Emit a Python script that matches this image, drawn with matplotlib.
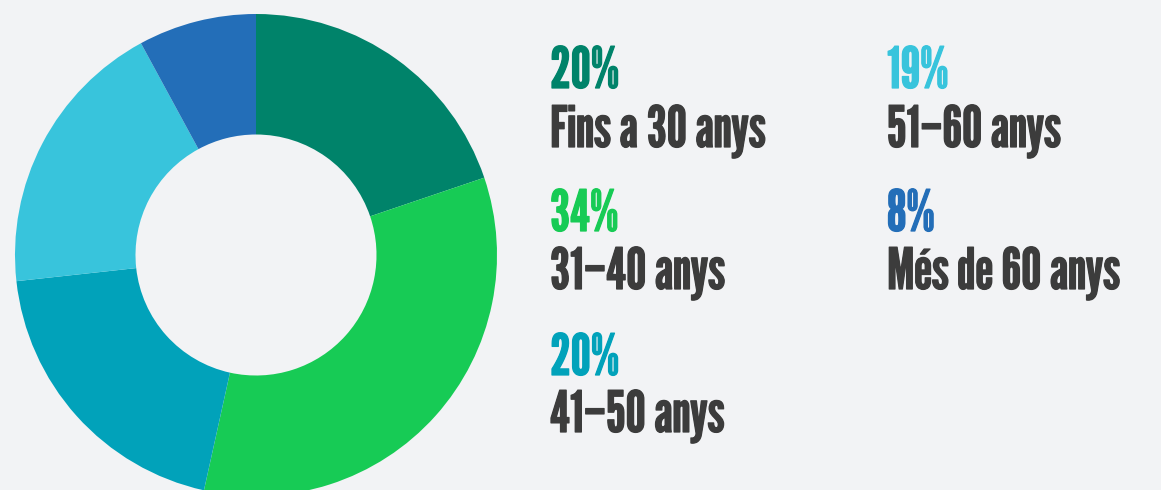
import matplotlib
matplotlib.use('Agg')
import matplotlib.pyplot as plt
import matplotlib.patheffects as pe

# Data
categories = ['Fins a 30 anys', '31-40 anys', '41-50 anys', '51-60 anys', 'Més de 60 anys']
values = [20, 34, 20, 19, 8]
pct_labels = ['20%', '34%', '20%', '19%', '8%']
colors = ['#00836A', '#17CB55', '#01A2BA', '#38C4DC', '#236EB8']

bg = '#F2F3F5'
text_dark = '#3C3C3C'
font = ['League Gothic', 'Oswald', 'DejaVu Sans']

W, H = 1161, 490
fig = plt.figure(figsize=(W / 100, H / 100), dpi=100, facecolor=bg)

# Donut
ax = fig.add_axes([15 / W, -6 / H, 482 / W, 482 / H])
ax.set_facecolor(bg)
ax.pie(values, colors=colors, startangle=90, counterclock=False,
       radius=1, wedgeprops=dict(width=0.5, linewidth=0))
ax.set_xlim(-1, 1)
ax.set_ylim(-1, 1)
ax.set_aspect('equal')
ax.axis('off')

# Legend text (two columns)
col_x = [550, 887]
pct_y = [88, 231, 375]
lab_y = [147, 289, 432]
slots = [(0, 0), (0, 1), (0, 2), (1, 0), (1, 1)]

def bold(c):
    # League Gothic is a touch lighter than the reference face
    return [pe.withStroke(linewidth=0.9, foreground=c)]

for i, (c, r) in enumerate(slots):
    x = col_x[c] / W
    fig.text(x, 1 - pct_y[r] / H, pct_labels[i], color=colors[i],
             fontsize=41, family=font, va='baseline', ha='left',
             path_effects=bold(colors[i]))
    fig.text(x, 1 - lab_y[r] / H, categories[i].replace('-', '–'), color=text_dark,
             fontsize=41, family=font, va='baseline', ha='left',
             path_effects=bold(text_dark))

fig.savefig('out.png', dpi=100, facecolor=bg)
